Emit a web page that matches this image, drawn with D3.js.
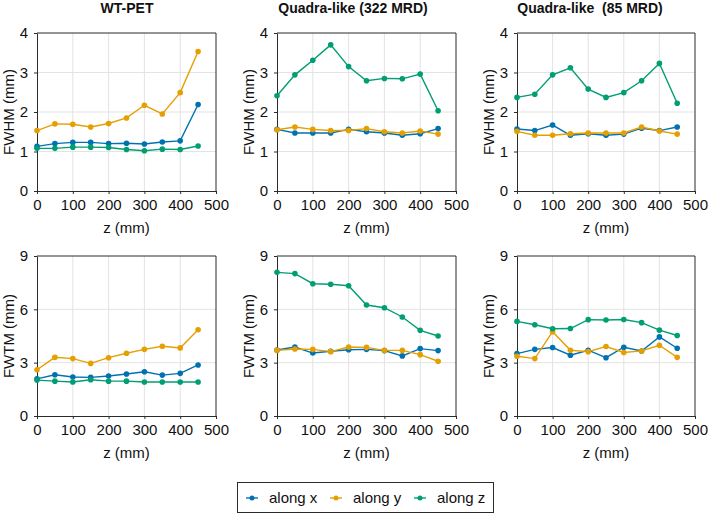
<!DOCTYPE html>
<html>
<head>
<meta charset="utf-8">
<script src="https://cdn.jsdelivr.net/npm/d3@7"></script>
<style>
  body { margin: 0; background: #fff; }
  svg { display: block; font-family: "Liberation Sans", Arial, Helvetica, sans-serif; }
</style>
</head>
<body>
<svg id="chart" width="708" height="516"></svg>
<script>
// ---------------- data ----------------
const zValues = [0, 50, 100, 150, 200, 250, 300, 350, 400, 450];
const xTicks = [0, 100, 200, 300, 400, 500];
const fwhmTicks = [0, 1, 2, 3, 4];
const fwtmTicks = [0, 3, 6, 9];
const panelTitles = ["WT-PET", "Quadra-like (322 MRD)", "Quadra-like  (85 MRD)"];
const rowLabels = ["FWHM (mm)", "FWTM (mm)"];
const xLabel = "z (mm)";
const seriesNames = ["along x", "along y", "along z"];

// FWHM (mm)
const fwhmWT_x = [1.13, 1.20, 1.23, 1.23, 1.20, 1.21, 1.19, 1.24, 1.27, 2.19];
const fwhmWT_y = [1.53, 1.70, 1.69, 1.62, 1.71, 1.85, 2.17, 1.95, 2.49, 3.53];
const fwhmWT_z = [1.08, 1.08, 1.11, 1.11, 1.10, 1.05, 1.02, 1.06, 1.05, 1.14];

const fwhmQ322_x = [1.56, 1.47, 1.47, 1.47, 1.56, 1.50, 1.47, 1.41, 1.45, 1.58];
const fwhmQ322_y = [1.55, 1.62, 1.56, 1.53, 1.53, 1.58, 1.50, 1.47, 1.52, 1.44];
const fwhmQ322_z = [2.41, 2.94, 3.31, 3.70, 3.15, 2.79, 2.85, 2.84, 2.96, 2.03];

const fwhmQ85_x = [1.57, 1.53, 1.67, 1.41, 1.45, 1.41, 1.44, 1.59, 1.53, 1.62];
const fwhmQ85_y = [1.51, 1.41, 1.41, 1.45, 1.47, 1.47, 1.47, 1.62, 1.52, 1.44];
const fwhmQ85_z = [2.37, 2.45, 2.94, 3.12, 2.58, 2.37, 2.49, 2.79, 3.23, 2.22];

// FWTM (mm)
const fwtmWT_x = [2.09, 2.32, 2.19, 2.17, 2.25, 2.36, 2.49, 2.30, 2.40, 2.87];
const fwtmWT_y = [2.60, 3.30, 3.23, 2.96, 3.28, 3.53, 3.75, 3.92, 3.83, 4.85];
const fwtmWT_z = [2.02, 1.96, 1.91, 2.04, 1.96, 1.96, 1.91, 1.91, 1.91, 1.91];

const fwtmQ322_x = [3.71, 3.88, 3.54, 3.64, 3.73, 3.75, 3.68, 3.38, 3.79, 3.68];
const fwtmQ322_y = [3.69, 3.77, 3.75, 3.62, 3.88, 3.86, 3.69, 3.69, 3.45, 3.08];
const fwtmQ322_z = [8.08, 8.01, 7.44, 7.41, 7.33, 6.24, 6.09, 5.57, 4.82, 4.50];

const fwtmQ85_x = [3.51, 3.75, 3.85, 3.42, 3.70, 3.28, 3.87, 3.66, 4.45, 3.81];
const fwtmQ85_y = [3.36, 3.23, 4.74, 3.70, 3.62, 3.91, 3.57, 3.66, 3.98, 3.30];
const fwtmQ85_z = [5.32, 5.13, 4.91, 4.92, 5.42, 5.40, 5.43, 5.25, 4.83, 4.53];

// ---------------- layout / style ----------------
const colors = ["#0072B2", "#E69F00", "#009E73"];
const colX = [[37, 216], [277, 456], [517, 695]];
const rowY = [[33, 191], [256, 416]];
const titleX = [127, 353, 590];
const frameColor = "#2b2b2b";
const gridColor = "#e3e3e3";
const fontSize = "15px";

const panels = [
  {row: 0, col: 0, ticks: fwhmTicks, series: [fwhmWT_x, fwhmWT_y, fwhmWT_z]},
  {row: 0, col: 1, ticks: fwhmTicks, series: [fwhmQ322_x, fwhmQ322_y, fwhmQ322_z]},
  {row: 0, col: 2, ticks: fwhmTicks, series: [fwhmQ85_x, fwhmQ85_y, fwhmQ85_z]},
  {row: 1, col: 0, ticks: fwtmTicks, series: [fwtmWT_x, fwtmWT_y, fwtmWT_z]},
  {row: 1, col: 1, ticks: fwtmTicks, series: [fwtmQ322_x, fwtmQ322_y, fwtmQ322_z]},
  {row: 1, col: 2, ticks: fwtmTicks, series: [fwtmQ85_x, fwtmQ85_y, fwtmQ85_z]}
];

const svg = d3.select("#chart");

panels.forEach(p => {
  const [x0, x1] = colX[p.col];
  const [y0, y1] = rowY[p.row];
  const x = d3.scaleLinear().domain([0, 500]).range([x0, x1]);
  const y = d3.scaleLinear().domain([0, p.ticks[p.ticks.length - 1]]).range([y1, y0]);
  const g = svg.append("g");

  // grid
  g.append("g").selectAll("line").data(xTicks.slice(1, -1)).join("line")
    .attr("x1", d => x(d)).attr("x2", d => x(d)).attr("y1", y0).attr("y2", y1)
    .attr("stroke", gridColor).attr("stroke-width", 1);
  g.append("g").selectAll("line").data(p.ticks.slice(1, -1)).join("line")
    .attr("x1", x0).attr("x2", x1).attr("y1", d => y(d)).attr("y2", d => y(d))
    .attr("stroke", gridColor).attr("stroke-width", 1);

  // frame (top/right)
  g.append("line").attr("x1", x0).attr("x2", x1).attr("y1", y0).attr("y2", y0)
    .attr("stroke", frameColor).attr("stroke-width", 1);
  g.append("line").attr("x1", x1).attr("x2", x1).attr("y1", y0).attr("y2", y1)
    .attr("stroke", frameColor).attr("stroke-width", 1);

  // axes
  const ax = g.append("g").attr("transform", `translate(0,${y1})`)
    .call(d3.axisBottom(x).tickValues(xTicks).tickFormat(d3.format("d"))
      .tickSize(3).tickPadding(5).tickSizeOuter(0));
  const ay = g.append("g").attr("transform", `translate(${x0},0)`)
    .call(d3.axisLeft(y).tickValues(p.ticks).tickFormat(d3.format("d"))
      .tickSize(3).tickPadding(6).tickSizeOuter(0));
  [ax, ay].forEach(a => {
    a.select(".domain").attr("stroke", frameColor);
    a.selectAll(".tick line").attr("stroke", frameColor);
    a.selectAll(".tick text").attr("fill", "#111").style("font-size", fontSize)
      .style("font-family", '"Liberation Sans", Arial, sans-serif');
  });

  // axis labels
  g.append("text").attr("x", (x0 + x1) / 2).attr("y", y1 + 42)
    .attr("text-anchor", "middle").attr("fill", "#111").style("font-size", fontSize)
    .text(xLabel);
  g.append("text")
    .attr("transform", `translate(${x0 - 23},${(y0 + y1) / 2}) rotate(-90)`)
    .attr("text-anchor", "middle").attr("fill", "#111").style("font-size", fontSize)
    .text(rowLabels[p.row]);

  // series
  const line = d3.line().x((d, i) => x(zValues[i])).y(d => y(d));
  p.series.forEach((s, k) => {
    g.append("path").datum(s).attr("d", line).attr("fill", "none")
      .attr("stroke", colors[k]).attr("stroke-width", 1.4);
    g.append("g").selectAll("circle").data(s).join("circle")
      .attr("cx", (d, i) => x(zValues[i])).attr("cy", d => y(d)).attr("r", 2.8)
      .attr("fill", colors[k]);
  });
});

// titles
panelTitles.forEach((t, i) => {
  svg.append("text").attr("x", titleX[i]).attr("y", 13)
    .attr("text-anchor", "middle").attr("fill", "#111")
    .style("font-size", "14px").style("font-weight", "bold")
    .style("white-space", "pre").text(t);
});

// legend
const lg = svg.append("g");
lg.append("rect").attr("x", 237.5).attr("y", 482.5).attr("width", 256).attr("height", 30)
  .attr("fill", "#fff").attr("stroke", frameColor).attr("stroke-width", 1);
const legendX = [246, 330, 414];
seriesNames.forEach((n, k) => {
  const lx = legendX[k];
  lg.append("line").attr("x1", lx).attr("x2", lx + 12).attr("y1", 498).attr("y2", 498)
    .attr("stroke", colors[k]).attr("stroke-width", 1.4);
  lg.append("circle").attr("cx", lx + 6).attr("cy", 498).attr("r", 2.5).attr("fill", colors[k]);
  lg.append("text").attr("x", lx + 23).attr("y", 503).attr("fill", "#111")
    .style("font-size", fontSize).text(n);
});
</script>
</body>
</html>
